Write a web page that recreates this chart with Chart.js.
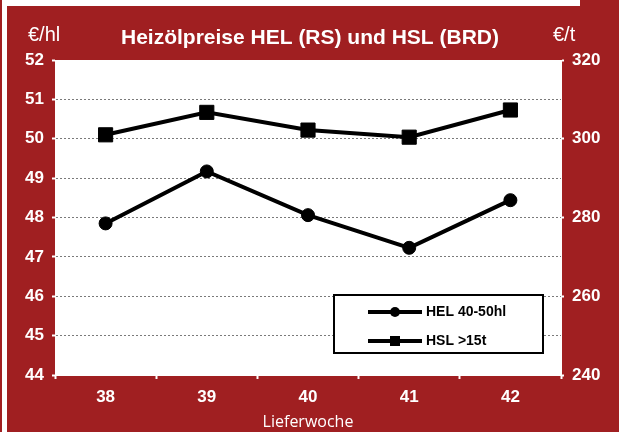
<!DOCTYPE html>
<html><head><meta charset="utf-8">
<script src="https://cdn.jsdelivr.net/npm/chart.js@4"></script>
<style>html,body{margin:0;padding:0;background:#fff}#wrap{position:relative;width:619px;height:432px}</style>
</head><body>
<div id="wrap"><canvas id="c" width="619" height="432"></canvas></div>
<script>
const weeks = ['38', '39', '40', '41', '42'];
const helValues = [47.85, 49.17, 48.06, 47.23, 48.44];
const hslValues = [301.0, 306.7, 302.2, 300.4, 307.3];
const helLabel = 'HEL 40-50hl';
const hslLabel = 'HSL >15t';
const chartTitle = 'Heizölpreise HEL (RS) und HSL (BRD)';
const leftUnit = '€/hl';
const rightUnit = '€/t';
const xTitle = 'Lieferwoche';

const RED = '#A01F21';
const FONT = '"Liberation Sans", Arial, sans-serif';

const bgPlugin = {
  id: 'bg',
  beforeDraw(c) {
    const ctx = c.ctx, a = c.chartArea;
    ctx.save();
    ctx.fillStyle = RED;
    ctx.fillRect(0, 0, c.width, c.height);
    ctx.fillStyle = '#fff';
    ctx.fillRect(2, 0, 5, c.height);
    ctx.fillRect(2, 0, 578, 6);
    ctx.fillRect(a.left, a.top, a.right - a.left, a.bottom - a.top);
    ctx.restore();
  }
};

const overlayPlugin = {
  id: 'overlay',
  afterDraw(c) {
    const ctx = c.ctx, a = c.chartArea;
    ctx.save();
    ctx.fillStyle = '#fff';
    ctx.textBaseline = 'middle';
    ctx.textAlign = 'center';
    ctx.font = 'bold 21px ' + FONT;
    ctx.fillText(chartTitle, 310, 38);
    ctx.font = '20px ' + FONT;
    ctx.textAlign = 'left';
    ctx.fillText(leftUnit, 28, 35);
    ctx.fillText(rightUnit, 553, 35);

    // legend box
    const lx = a.left + 279, ly = a.top + 235, lw = 209, lh = 58;
    ctx.fillStyle = '#fff';
    ctx.fillRect(lx, ly, lw, lh);
    ctx.lineWidth = 2;
    ctx.strokeStyle = '#000';
    ctx.strokeRect(lx, ly, lw, lh);
    const rows = [[helLabel, 'circle', ly + 17], [hslLabel, 'rect', ly + 46]];
    rows.forEach(([txt, st, y]) => {
      ctx.beginPath();
      ctx.lineWidth = 4;
      ctx.moveTo(lx + 34, y);
      ctx.lineTo(lx + 88, y);
      ctx.stroke();
      ctx.fillStyle = '#000';
      if (st === 'circle') {
        ctx.beginPath(); ctx.arc(lx + 61, y, 5, 0, Math.PI * 2); ctx.fill();
      } else {
        ctx.fillRect(lx + 56, y - 5, 10, 10);
      }
      ctx.font = 'bold 14px ' + FONT;
      ctx.textAlign = 'left';
      ctx.fillText(txt, lx + 92, y);
    });
    ctx.restore();
  }
};

const tickFont = { family: FONT, size: 17, weight: 'bold' };

new Chart(document.getElementById('c'), {
  type: 'line',
  data: {
    labels: weeks,
    datasets: [
      { label: helLabel, data: helValues, yAxisID: 'y', borderColor: '#000', backgroundColor: '#000',
        borderWidth: 4, pointStyle: 'circle', pointRadius: 6.5, pointBorderWidth: 1, tension: 0 },
      { label: hslLabel, data: hslValues, yAxisID: 'y1', borderColor: '#000', backgroundColor: '#000',
        borderWidth: 4, pointStyle: 'rect', pointRadius: 10, pointBorderWidth: 1, tension: 0 }
    ]
  },
  options: {
    responsive: false,
    animation: false,
    layout: { padding: { top: 60, left: 0, right: 0, bottom: 0 } },
    plugins: { legend: { display: false }, tooltip: { enabled: false }, title: { display: false } },
    scales: {
      x: {
        offset: true,
        grid: { offset: true, drawOnChartArea: false, tickLength: 4, tickColor: '#fff', tickWidth: 2 },
        border: { color: '#fff', width: 1 },
        ticks: { color: '#fff', font: tickFont, padding: 8 },
        title: { display: true, text: xTitle, color: '#fff', font: { family: '"Open Sans", sans-serif', size: 16 }, padding: { top: 0, bottom: 0 } },
        afterFit(s) { s.height = 57; }
      },
      y: {
        position: 'left', min: 44, max: 52,
        ticks: { stepSize: 1, color: '#fff', font: tickFont, padding: 8 },
        grid: {
          color: (ctx) => (ctx.tick && (ctx.tick.value === 44 || ctx.tick.value === 52)) ? 'rgba(0,0,0,0)' : '#7a7a7a',
          lineWidth: 1, tickLength: 3, tickColor: '#fff', tickWidth: 2
        },
        border: { color: '#fff', width: 1, dash: [2, 2] },
        afterFit(s) { s.width = 55; }
      },
      y1: {
        position: 'right', min: 240, max: 320,
        ticks: { stepSize: 20, color: '#fff', font: tickFont, padding: 8 },
        grid: { drawOnChartArea: false, tickLength: 3, tickColor: '#fff', tickWidth: 2 },
        border: { color: '#fff', width: 1 },
        afterFit(s) { s.width = 58; }
      }
    }
  },
  plugins: [bgPlugin, overlayPlugin]
});
</script>
</body></html>
